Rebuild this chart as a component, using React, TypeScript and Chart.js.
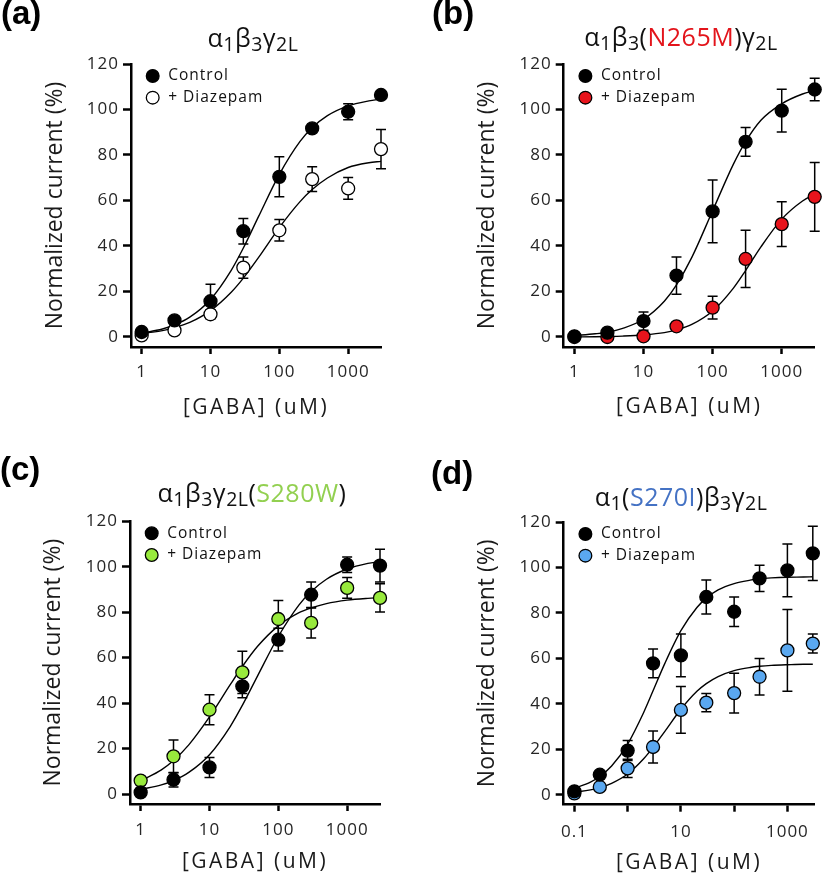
import React, { useEffect, useRef } from 'react';
import { Chart, registerables } from 'chart.js';

Chart.register(...registerables);

// ---------------- DATA ----------------
const GABA_ABC = [1, 3, 10, 30, 100, 300, 1000, 3000];
const GABA_D = [0.1, 0.3, 1, 3, 10, 30, 100, 300, 1000, 3000];

const A_CTRL = [2.2, 7.3, 15.7, 46.5, 70.4, 91.7, 99.0, 106.4];
const A_CTRL_ERR = [1, 1, 7.5, 5.6, 8.8, 1.2, 3.5, 1.2];
const A_DZP = [0.7, 2.9, 10.0, 30.5, 46.9, 69.4, 65.3, 82.6];
const A_DZP_ERR = [0.8, 1, 2, 4.7, 4.7, 5.4, 4.8, 8.6];

const B_CTRL = [0.3, 1.9, 7.0, 27.0, 55.2, 85.8, 99.5, 108.8];
const B_CTRL_ERR = [0.5, 1, 4, 8.2, 13.8, 6.3, 9.4, 4.9];
const B_DZP = [0, 0, 0.3, 4.7, 12.9, 34.3, 49.6, 61.6];
const B_DZP_ERR = [0.3, 0.5, 0.5, 1.5, 5, 12.6, 9.8, 15.1];

const C_CTRL = [0.7, 6.3, 11.7, 47.4, 67.9, 87.7, 100.9, 100.5];
const C_CTRL_ERR = [1, 3.2, 4.4, 5, 5, 5.6, 3.4, 7.2];
const C_DZP = [5.9, 16.6, 37.1, 53.5, 77.0, 75.3, 90.7, 86.3];
const C_DZP_ERR = [1, 7.2, 6.6, 9.3, 8.1, 6.6, 4.6, 6.2];

const D_CTRL = [1.5, 8.8, 19.4, 57.8, 61.3, 87.0, 80.5, 95.2, 98.7, 106.2];
const D_CTRL_ERR = [0.5, 1, 4.4, 6.3, 9.4, 7.5, 6.5, 5.8, 11.6, 11.9];
const D_DZP = [0.6, 3.4, 11.6, 21.0, 37.3, 40.5, 44.7, 51.9, 63.5, 66.5];
const D_DZP_ERR = [0.5, 1, 4, 7, 10.3, 4, 8.7, 8, 18, 4.2];

// fitted curves
const FIT_X_ABC = [1, 2, 3, 5, 10, 20, 30, 50, 100, 200, 300, 500, 1000, 2000, 3000];
const A_CTRL_FIT = [1.7, 3.5, 5.3, 8.7, 16.5, 29.3, 39.1, 53.0, 71.5, 86.0, 92.0, 97.3, 101.6, 103.8, 104.6];
const A_DZP_FIT = [1.5, 2.8, 4.1, 6.4, 11.6, 19.7, 25.9, 35.0, 48.1, 59.5, 64.8, 69.9, 74.5, 76.6, 77.2];
const B_CTRL_FIT = [0.6, 1.4, 2.1, 3.8, 7.8, 15.7, 22.9, 35.0, 55.5, 76.0, 85.9, 95.3, 102.5, 106.8, 108.3];
const B_DZP_FIT = [0.05, 0.1, 0.2, 0.4, 0.9, 1.9, 3.1, 5.5, 11.4, 21.5, 29.2, 39.6, 51.8, 59.8, 62.7];
const C_CTRL_FIT = [2.0, 4.0, 5.9, 9.5, 17.3, 29.7, 39.0, 52.0, 69.3, 83.2, 89.1, 94.5, 99.0, 101.5, 102.3];
const C_DZP_FIT = [5.8, 10.6, 14.7, 21.6, 33.9, 48.1, 56.1, 65.0, 74.0, 79.8, 81.9, 83.8, 85.3, 86.1, 86.4];
const FIT_X_D = [0.1, 0.2, 0.3, 0.5, 1, 2, 3, 5, 10, 20, 30, 50, 100, 200, 300, 500, 1000, 2000, 3000];
const D_CTRL_FIT = [2.8, 5.5, 8.0, 12.6, 22.3, 36.2, 45.7, 57.8, 72.2, 82.4, 86.5, 90.1, 92.9, 94.4, 95.0, 95.4, 95.7, 95.8, 95.9];
const D_DZP_FIT = [1.1, 2.1, 3.1, 5.0, 9.1, 15.8, 20.8, 27.9, 37.6, 45.5, 48.9, 52.0, 54.6, 56.0, 56.5, 56.9, 57.2, 57.4, 57.4];

const Y_TICKS = [0, 20, 40, 60, 80, 100, 120];
const X_TICKS_ABC = [1, 10, 100, 1000];
const X_LABELS_ABC = ['1', '10', '100', '1000'];
const X_TICKS_D = [0.1, 1, 10, 100, 1000];
const X_LABELS_D = ['0.1', '', '10', '', '1000'];

const SERIES_LABELS = ['Control', '+ Diazepam'];
const X_TITLE = '[GABA] (uM)';
const Y_TITLE = 'Normalized current (%)';

// ---------------- STYLE ----------------
const FONT = "'Open Sans', 'DejaVu Sans', sans-serif";
const TICK_SIZE = 17;
const LEGEND_SIZE = 15.5;
const XTITLE_SIZE = 21;
const YTITLE_SIZE = 23;
const SPACING: Record<string, string> = { '17': '1px', '15.5': '1px', '21': '2.5px', '23': '0px' };

const RED = '#e3141b';
const GREEN_T = '#92d050';
const BLUE_T = '#4472c4';

function patchSpacing(ctx: any) {
  if (ctx.__patched) return;
  ctx.__patched = true;
  const orig = ctx.fillText.bind(ctx);
  ctx.fillText = (t: string, x: number, y: number, mw?: number) => {
    const m = /(\d+(?:\.\d+)?)px/.exec(ctx.font);
    const key = m ? String(parseFloat(m[1])) : '';
    if ('letterSpacing' in ctx) ctx.letterSpacing = SPACING[key] || '0px';
    if (mw === undefined) orig(t, x, y);
    else orig(t, x, y, mw);
  };
}

const errorBarPlugin = {
  id: 'errorBars',
  beforeDatasetsDraw(chart: any) {
    const { ctx, scales } = chart;
    const xs = scales.x;
    const ys = scales.y;
    ctx.save();
    ctx.strokeStyle = '#000';
    ctx.lineWidth = 1.5;
    chart.data.datasets.forEach((ds: any) => {
      if (!ds.errors) return;
      ds.data.forEach((p: any, i: number) => {
        const e = ds.errors[i];
        const px = xs.getPixelForValue(p.x);
        const t = ys.getPixelForValue(p.y + e);
        const b = ys.getPixelForValue(p.y - e);
        ctx.beginPath();
        ctx.moveTo(px, t);
        ctx.lineTo(px, b);
        ctx.moveTo(px - 5, t);
        ctx.lineTo(px + 5, t);
        ctx.moveTo(px - 5, b);
        ctx.lineTo(px + 5, b);
        ctx.stroke();
      });
    });
    ctx.restore();
  },
};

const legendPlacePlugin = {
  id: 'legendPlace',
  afterLayout(chart: any) {
    const lg = chart.legend;
    const ca = chart.chartArea;
    if (!lg || !ca) return;
    lg.left = ca.left + 7.75;
    lg.top = ca.top - 2;
    lg.right = ca.right;
    lg.bottom = ca.bottom;
  },
};

interface Spec {
  left: number; top: number;
  cl: number; cr: number; ct: number; cb: number;
  yTitleX: number; xTitleY: number; xTickY: number;
  xMin: number; xMax: number; xTicks: number[]; xLabels: string[];
  xs: number[]; ctrl: number[]; ctrlErr: number[]; dzp: number[]; dzpErr: number[];
  dzpColor: string;
  fitX: number[]; ctrlFit: number[]; dzpFit: number[];
}

const W = 412;
const H = 438;

const SPECS: Spec[] = [
  { left: 0, top: 0, cl: 131, cr: 381, ct: 64, cb: 347, yTitleX: 55, xTitleY: 408, xTickY: 372,
    xMin: 0.7, xMax: 3000, xTicks: X_TICKS_ABC, xLabels: X_LABELS_ABC,
    xs: GABA_ABC, ctrl: A_CTRL, ctrlErr: A_CTRL_ERR, dzp: A_DZP, dzpErr: A_DZP_ERR, dzpColor: '#ffffff',
    fitX: FIT_X_ABC, ctrlFit: A_CTRL_FIT, dzpFit: A_DZP_FIT },
  { left: 412, top: 0, cl: 151.7, cr: 402.7, ct: 64, cb: 347, yTitleX: 75, xTitleY: 407, xTickY: 372,
    xMin: 0.7, xMax: 3000, xTicks: X_TICKS_ABC, xLabels: X_LABELS_ABC,
    xs: GABA_ABC, ctrl: B_CTRL, ctrlErr: B_CTRL_ERR, dzp: B_DZP, dzpErr: B_DZP_ERR, dzpColor: '#e8141c',
    fitX: FIT_X_ABC, ctrlFit: B_CTRL_FIT, dzpFit: B_DZP_FIT },
  { left: 0, top: 438, cl: 130, cr: 380, ct: 83.3, cb: 366, yTitleX: 53, xTitleY: 424, xTickY: 392.5,
    xMin: 0.7, xMax: 3000, xTicks: X_TICKS_ABC, xLabels: X_LABELS_ABC,
    xs: GABA_ABC, ctrl: C_CTRL, ctrlErr: C_CTRL_ERR, dzp: C_DZP, dzpErr: C_DZP_ERR, dzpColor: '#98ea3c',
    fitX: FIT_X_ABC, ctrlFit: C_CTRL_FIT, dzpFit: C_DZP_FIT },
  { left: 412, top: 438, cl: 151.7, cr: 402.3, ct: 84, cb: 366.7, yTitleX: 75, xTitleY: 425, xTickY: 394,
    xMin: 0.063, xMax: 3200, xTicks: X_TICKS_D, xLabels: X_LABELS_D,
    xs: GABA_D, ctrl: D_CTRL, ctrlErr: D_CTRL_ERR, dzp: D_DZP, dzpErr: D_DZP_ERR, dzpColor: '#5aa8f0',
    fitX: FIT_X_D, ctrlFit: D_CTRL_FIT, dzpFit: D_DZP_FIT },
];

function buildConfig(s: Spec): any {
  const yLH = YTITLE_SIZE * 1.2;
  const xLH = XTITLE_SIZE * 1.2;
  const tickLH = TICK_SIZE * 1.2;
  const padLeft = s.yTitleX - yLH / 2;
  const xBottom = s.xTitleY + xLH / 2;
  const padding = { left: padLeft, top: s.ct, right: W - s.cr, bottom: Math.max(0, H - xBottom) };
  const yWidth = s.cl - padLeft;
  const xHeight = xBottom - s.cb;
  const xTickPad = s.xTickY - s.cb - 7 - tickLH / 2;

  const pts = (vals: number[]) => s.xs.map((x, i) => ({ x, y: vals[i] }));
  const fit = (vals: number[]) => s.fitX.map((x, i) => ({ x, y: vals[i] }));

  return {
    type: 'scatter',
    data: {
      datasets: [
        { label: SERIES_LABELS[0], data: pts(s.ctrl), errors: s.ctrlErr, backgroundColor: '#000', borderColor: '#000',
          borderWidth: 1.3, pointRadius: 6.5, pointStyle: 'circle', clip: false },
        { label: SERIES_LABELS[1], data: pts(s.dzp), errors: s.dzpErr, backgroundColor: s.dzpColor, borderColor: '#000',
          borderWidth: 1.3, pointRadius: 6.5, pointStyle: 'circle', clip: false },
        { label: '', data: fit(s.ctrlFit), showLine: true, pointRadius: 0, borderColor: '#000', borderWidth: 1.4,
          backgroundColor: 'transparent', cubicInterpolationMode: 'monotone', clip: false },
        { label: '', data: fit(s.dzpFit), showLine: true, pointRadius: 0, borderColor: '#000', borderWidth: 1.4,
          backgroundColor: 'transparent', cubicInterpolationMode: 'monotone', clip: false },
      ],
    },
    options: {
      responsive: false,
      animation: false,
      devicePixelRatio: 1,
      layout: { padding },
      events: [],
      plugins: {
        tooltip: { enabled: false },
        title: { display: false },
        legend: {
          display: true,
          position: 'chartArea',
          align: 'start',
          labels: {
            filter: (item: any) => SERIES_LABELS.includes(item.text),
            usePointStyle: true,
            boxWidth: LEGEND_SIZE,
            boxHeight: 9,
            padding: 6.2,
            color: '#111',
            font: { family: FONT, size: LEGEND_SIZE },
          },
        },
      },
      scales: {
        x: {
          type: 'logarithmic',
          position: 'bottom',
          min: s.xMin,
          max: s.xMax,
          afterBuildTicks: (sc: any) => { sc.ticks = s.xTicks.map((v) => ({ value: v })); },
          afterFit: (sc: any) => { sc.height = xHeight; },
          ticks: {
            autoSkip: false,
            maxRotation: 0,
            padding: xTickPad,
            color: '#262626',
            font: { family: FONT, size: TICK_SIZE },
            callback: (_v: any, i: number) => s.xLabels[i],
          },
          grid: { display: true, drawOnChartArea: false, drawTicks: true, tickLength: 7, tickWidth: 2.5, tickColor: '#000' },
          border: { display: true, color: '#000', width: 2.5 },
          title: { display: true, text: X_TITLE, color: '#1a1a1a', padding: 0, font: { family: FONT, size: XTITLE_SIZE } },
        },
        y: {
          type: 'linear',
          min: -4.4,
          max: 120,
          afterBuildTicks: (sc: any) => { sc.ticks = Y_TICKS.map((v) => ({ value: v })); },
          afterFit: (sc: any) => { sc.width = yWidth; },
          ticks: {
            autoSkip: false,
            padding: 4,
            color: '#262626',
            font: { family: FONT, size: TICK_SIZE },
            callback: (v: any) => String(v),
          },
          grid: { display: true, drawOnChartArea: false, drawTicks: true, tickLength: 8, tickWidth: 2.5, tickColor: '#000' },
          border: { display: true, color: '#000', width: 2.5 },
          title: { display: true, text: Y_TITLE, color: '#1a1a1a', padding: 0, font: { family: FONT, size: YTITLE_SIZE } },
        },
      },
    },
    plugins: [errorBarPlugin, legendPlacePlugin],
  };
}

function Panel({ spec }: { spec: Spec }) {
  const ref = useRef<HTMLCanvasElement>(null);
  useEffect(() => {
    const canvas = ref.current;
    if (!canvas) return;
    const ctx = canvas.getContext('2d');
    if (!ctx) return;
    patchSpacing(ctx);
    const chart = new Chart(ctx, buildConfig(spec));
    return () => chart.destroy();
  }, [spec]);
  return (
    <canvas
      ref={ref}
      width={W}
      height={H}
      style={{ position: 'absolute', left: spec.left, top: spec.top, width: W, height: H }}
    />
  );
}

type Part = { t?: string; sub?: string; color?: string };

const SUB: React.CSSProperties = { fontSize: '0.78em', verticalAlign: '-0.22em', lineHeight: 0 };

function Title({ cx, baseline, parts }: { cx: number; baseline: number; parts: Part[] }) {
  return (
    <div
      style={{
        position: 'absolute', left: cx, top: baseline - 22.2, transform: 'translateX(-50%)',
        fontFamily: FONT, fontSize: 25, lineHeight: '25px', letterSpacing: '0.5px', whiteSpace: 'nowrap', color: '#111',
      }}
    >
      {parts.map((p, i) =>
        p.sub ? (
          <sub key={i} style={SUB}>{p.sub}</sub>
        ) : (
          <span key={i} style={p.color ? { color: p.color } : undefined}>{p.t}</span>
        )
      )}
    </div>
  );
}

function Tag({ x, y, text }: { x: number; y: number; text: string }) {
  return (
    <div
      style={{
        position: 'absolute', left: x, top: y, fontFamily: "'Liberation Sans', Arial, sans-serif",
        fontWeight: 'bold', fontSize: 33, lineHeight: '33px', color: '#000', whiteSpace: 'nowrap',
      }}
    >
      {text}
    </div>
  );
}

const TITLE_A: Part[] = [{ t: 'α' }, { sub: '1' }, { t: 'β' }, { sub: '3' }, { t: 'γ' }, { sub: '2L' }];
const TITLE_B: Part[] = [{ t: 'α' }, { sub: '1' }, { t: 'β' }, { sub: '3' }, { t: '(' }, { t: 'N265M', color: RED }, { t: ')' }, { t: 'γ' }, { sub: '2L' }];
const TITLE_C: Part[] = [{ t: 'α' }, { sub: '1' }, { t: 'β' }, { sub: '3' }, { t: 'γ' }, { sub: '2L' }, { t: '(' }, { t: 'S280W', color: GREEN_T }, { t: ')' }];
const TITLE_D: Part[] = [{ t: 'α' }, { sub: '1' }, { t: '(' }, { t: 'S270I', color: BLUE_T }, { t: ')' }, { t: 'β' }, { sub: '3' }, { t: 'γ' }, { sub: '2L' }];

export default function App() {
  return (
    <div style={{ position: 'absolute', left: 0, top: 0, width: 824, height: 876, background: '#fff', overflow: 'hidden' }}>
      {SPECS.map((s, i) => (
        <Panel key={i} spec={s} />
      ))}
      <Tag x={1} y={-4} text="(a)" />
      <Tag x={432} y={-4} text="(b)" />
      <Tag x={0} y={452} text="(c)" />
      <Tag x={431} y={456} text="(d)" />
      <Title cx={253} baseline={47} parts={TITLE_A} />
      <Title cx={681} baseline={46} parts={TITLE_B} />
      <Title cx={252} baseline={502} parts={TITLE_C} />
      <Title cx={681} baseline={506} parts={TITLE_D} />
    </div>
  );
}
